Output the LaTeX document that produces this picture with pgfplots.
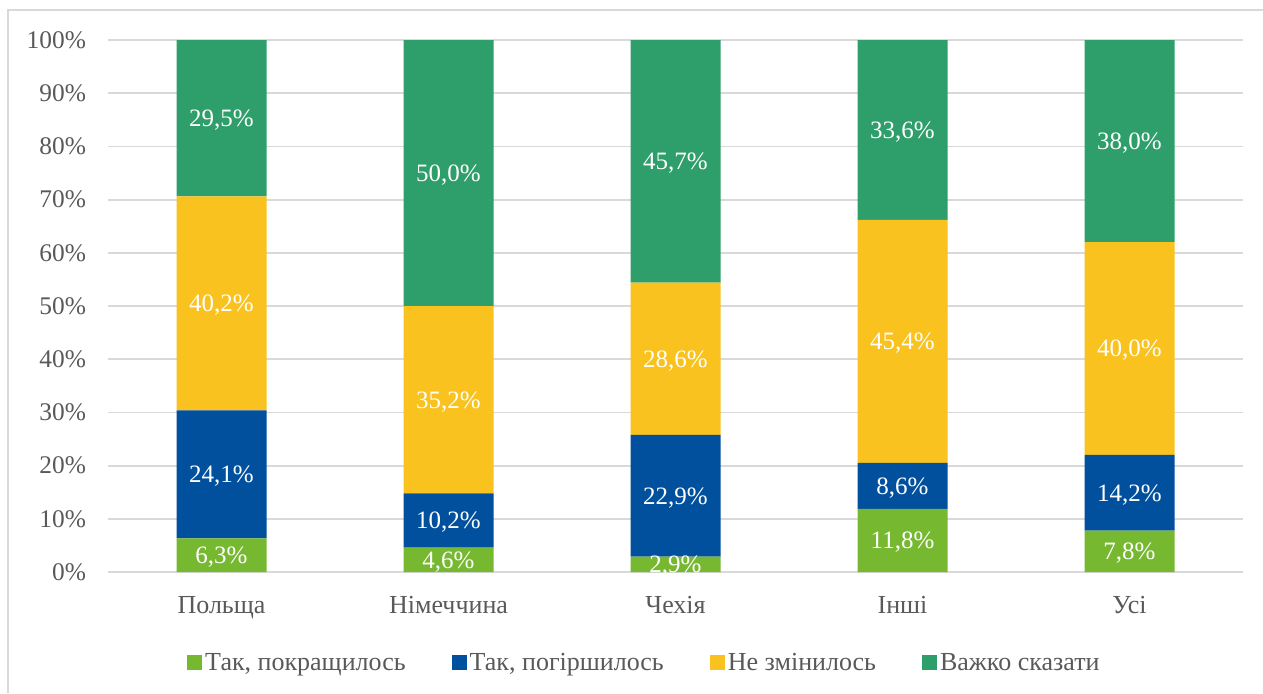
\documentclass[border=0pt]{standalone}
\usepackage{fontspec}
\setmainfont{Liberation Serif}
\usepackage{pgfplots}
\usepackage{pgfplotstable}
\pgfplotsset{compat=1.18}
\definecolor{lgreen}{RGB}{118,184,48}
\definecolor{dblue}{RGB}{0,80,158}
\definecolor{yel}{RGB}{249,194,31}
\definecolor{dgreen}{RGB}{46,158,106}
\definecolor{txt}{RGB}{89,89,89}
\definecolor{gridc}{RGB}{217,217,217}

% heights (Excel 100% stacked, normalised for "Інші") and printed labels
\pgfplotstableread{
x a     b     c     d     la   lb   lc   ld
0 6.3   24.1  40.2  29.5  6,3  24,1 40,2 29,5
1 4.6   10.2  35.2  50.0  4,6  10,2 35,2 50,0
2 2.9   22.9  28.6  45.7  2,9  22,9 28,6 45,7
3 11.87 8.65  45.67 33.80 11,8 8,6  45,4 33,6
4 7.8   14.2  40.0  38.0  7,8  14,2 40,0 38,0
}\datatable

\begin{document}
\begin{tikzpicture}
\path[use as bounding box] (-54pt,-60.5pt) rectangle (577.5pt,286pt);
\draw[gridc, line width=1pt] (-50pt,-60.5pt) -- (-50pt,281pt) -- (577.5pt,281pt);
\pgfplotsset{
  common/.style={
    at={(0,0)}, anchor=south west,
    scale only axis, width=567.5pt, height=266pt,
    xmin=-0.5, xmax=4.5, ymin=0, ymax=100,
  }
}
\begin{axis}[
  common,
  ybar stacked, bar width=45pt,
  xtick={0,1,2,3,4},
  xticklabels={Польща,Німеччина,Чехія,Інші,Усі},
  ytick={0,10,...,100},
  yticklabel={\pgfmathprintnumber{\tick}\%},
  /pgf/number format/assume math mode=true,
  major tick length=0pt,
  ymajorgrids,
  grid style={draw=gridc, line width=0.9pt},
  axis x line*=bottom,
  axis y line*=left,
  x axis line style={-, draw=gridc, line width=0.9pt},
  y axis line style={draw=none},
  yticklabel style={font=\fontsize{12.7}{14}\selectfont, text=txt, xshift=-7.5pt},
  xticklabel style={font=\fontsize{13}{15}\selectfont, text=txt, yshift=-8.5pt},
  legend style={at={(0.473,-0.171)}, anchor=center, draw=none,
    legend columns=4, font=\fontsize{13}{15}\selectfont, text=txt,
    /tikz/every even column/.append style={column sep=21.5pt},
    nodes={inner sep=1.5pt, anchor=base west}},
  legend cell align=left,
  legend image code/.code={\fill[#1] (0pt,0pt) rectangle (7.5pt,7.5pt);},
]
\addplot[fill=lgreen, draw=none] table[x=x, y=a] {\datatable};
\addplot[fill=dblue, draw=none] table[x=x, y=b] {\datatable};
\addplot[fill=yel, draw=none] table[x=x, y=c] {\datatable};
\addplot[fill=dgreen, draw=none] table[x=x, y=d] {\datatable};
\legend{{Так, покращилось},{Так, погіршилось},{Не змінилось},{Важко сказати}}
\end{axis}
\begin{axis}[
  common, hide axis,
  nodes near coords={\pgfplotspointmeta\%},
  point meta=explicit symbolic,
  every node near coord/.append style={anchor=center, text=white,
    yshift=-1pt, font=\fontsize{12.5}{14}\selectfont},
]
\addplot[draw=none, mark=none] table[x=x, y expr=\thisrow{a}/2, meta=la] {\datatable};
\addplot[draw=none, mark=none] table[x=x, y expr=\thisrow{a}+\thisrow{b}/2, meta=lb] {\datatable};
\addplot[draw=none, mark=none] table[x=x, y expr=\thisrow{a}+\thisrow{b}+\thisrow{c}/2, meta=lc] {\datatable};
\addplot[draw=none, mark=none] table[x=x, y expr=\thisrow{a}+\thisrow{b}+\thisrow{c}+\thisrow{d}/2, meta=ld] {\datatable};
\end{axis}
\end{tikzpicture}
\end{document}
